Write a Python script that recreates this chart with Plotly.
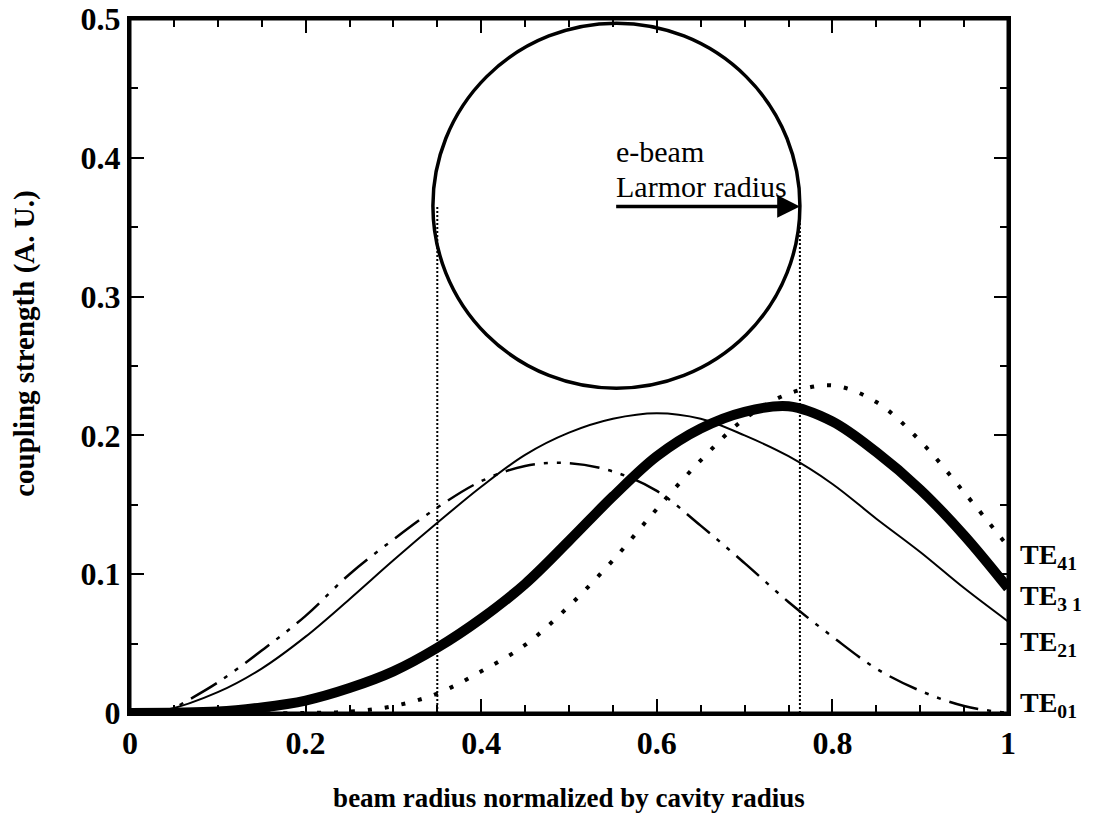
import plotly.graph_objects as go

# ---- data ----
x_te01 = [0, 0.04, 0.06, 0.1, 0.15, 0.2, 0.25, 0.3, 0.35, 0.4, 0.45, 0.5, 0.55, 0.6, 0.65, 0.7, 0.75, 0.8, 0.85, 0.9, 0.95, 1.0]
y_te01 = [0, 0, 0.007, 0.022, 0.045, 0.07, 0.1, 0.125, 0.148, 0.167, 0.178, 0.18, 0.174, 0.16, 0.135, 0.108, 0.08, 0.055, 0.032, 0.016, 0.005, 0.0]

x_te21 = [0, 0.04, 0.1, 0.15, 0.2, 0.25, 0.3, 0.35, 0.4, 0.45, 0.5, 0.55, 0.6, 0.65, 0.7, 0.75, 0.8, 0.85, 0.9, 0.95, 1.0]
y_te21 = [0, 0.002, 0.015, 0.032, 0.055, 0.082, 0.11, 0.137, 0.163, 0.186, 0.202, 0.212, 0.216, 0.212, 0.2, 0.185, 0.165, 0.14, 0.116, 0.09, 0.066]

x_te31 = [0, 0.1, 0.15, 0.2, 0.25, 0.3, 0.35, 0.4, 0.45, 0.5, 0.55, 0.6, 0.65, 0.7, 0.75, 0.8, 0.85, 0.9, 0.95, 1.0]
y_te31 = [0, 0.001, 0.004, 0.009, 0.018, 0.03, 0.047, 0.068, 0.093, 0.124, 0.156, 0.185, 0.205, 0.217, 0.221, 0.21, 0.188, 0.161, 0.128, 0.09]

x_te41 = [0, 0.2, 0.25, 0.3, 0.35, 0.4, 0.45, 0.5, 0.55, 0.6, 0.65, 0.7, 0.75, 0.8, 0.85, 0.9, 0.95, 1.0]
y_te41 = [0, 0, 0.001, 0.005, 0.014, 0.03, 0.049, 0.077, 0.11, 0.147, 0.182, 0.212, 0.230, 0.236, 0.224, 0.196, 0.159, 0.12]

mode_labels = ["TE<sub>41</sub>", "TE<sub>3 1</sub>", "TE<sub>21</sub>", "TE<sub>01</sub>"]
mode_label_y = [0.113, 0.083, 0.050, 0.006]

beam_edges = [0.35, 0.763]        # beam radius limits (dotted verticals)
beam_center_y = 0.365
circle_box = [0.345, 0.234, 0.763, 0.497]  # x0, y0, x1, y1
arrow_start = 0.552

x_ticks = [0, 0.2, 0.4, 0.6, 0.8, 1]
x_ticktext = ["0", "0.2", "0.4", "0.6", "0.8", "1"]
y_ticks = [0, 0.1, 0.2, 0.3, 0.4, 0.5]
y_ticktext = ["0", "0.1", "0.2", "0.3", "0.4", "0.5"]

SERIF = "Liberation Serif, Times New Roman, serif"

fig = go.Figure()

# vertical dotted guides
for xv in beam_edges:
    fig.add_trace(go.Scatter(x=[xv, xv], y=[0, beam_center_y], mode="lines",
                             line=dict(color="black", width=2, dash="2px,2px"),
                             showlegend=False, hoverinfo="skip"))

fig.add_trace(go.Scatter(x=x_te01, y=y_te01, mode="lines", line_shape="spline",
                         line=dict(color="black", width=2.5, dash="30px,9px,4px,9px,4px,9px"),
                         name="TE01", showlegend=False))
fig.add_trace(go.Scatter(x=x_te21, y=y_te21, mode="lines", line_shape="spline",
                         line=dict(color="black", width=2),
                         name="TE21", showlegend=False))
fig.add_trace(go.Scatter(x=x_te41, y=y_te41, mode="lines", line_shape="spline",
                         line=dict(color="black", width=4, dash="4px,13px"),
                         name="TE41", showlegend=False))
fig.add_trace(go.Scatter(x=x_te31, y=y_te31, mode="lines", line_shape="spline",
                         line=dict(color="black", width=10),
                         name="TE31", showlegend=False))

# Larmor circle
fig.add_shape(type="circle", xref="x", yref="y",
              x0=circle_box[0], y0=circle_box[1], x1=circle_box[2], y1=circle_box[3],
              line=dict(color="black", width=3.5))
# plot frame
fig.add_shape(type="rect", xref="paper", yref="paper", x0=0, y0=0, x1=1, y1=1,
              line=dict(color="black", width=3), layer="above")

# arrow
fig.add_annotation(x=beam_edges[1], y=beam_center_y, ax=arrow_start, ay=beam_center_y,
                   xref="x", yref="y", axref="x", ayref="y", text="",
                   showarrow=True, arrowhead=2, arrowsize=1.3, arrowwidth=3.5, arrowcolor="black")
fig.add_annotation(x=arrow_start, y=0.392, xref="x", yref="y",
                   text="e-beam", showarrow=False,
                   xanchor="left", yanchor="bottom", align="left", borderpad=0,
                   font=dict(family=SERIF, size=30, color="black"))
fig.add_annotation(x=arrow_start, y=0.392, xref="x", yref="y",
                   text="Larmor radius", showarrow=False,
                   xanchor="left", yanchor="top", align="left", borderpad=0,
                   font=dict(family=SERIF, size=30, color="black"))

# mode labels
for lab, yv in zip(mode_labels, mode_label_y):
    fig.add_annotation(x=1.0, y=yv, xref="paper", yref="y", text=f"<b>{lab}</b>", showarrow=False,
                       xanchor="left", yanchor="middle", xshift=10,
                       font=dict(family=SERIF, size=28, color="black"))

# y axis title (placed as annotation to match reference position)
fig.add_annotation(x=0, y=0.266, xref="paper", yref="y", xshift=-105,
                   text="<b>coupling strength (A. U.)</b>", showarrow=False, textangle=-90,
                   xanchor="center", yanchor="middle",
                   font=dict(family=SERIF, size=29, color="black"))

axis_common = dict(showline=True, linecolor="black", linewidth=3, mirror="ticks",
                   ticks="inside", ticklen=14, tickwidth=2, tickcolor="black",
                   showgrid=False, zeroline=False, ticklabeloverflow="allow",
                   automargin=False,
                   tickfont=dict(family=SERIF, size=32, color="black"))

fig.update_xaxes(range=[0, 1], tickvals=x_ticks, ticktext=[f"<b>{t}</b>" for t in x_ticktext],
                 minor=dict(ticks="inside", ticklen=8, tickwidth=2, dtick=0.05, tickcolor="black"),
                 title=dict(text="<b>beam radius normalized by cavity radius</b>",
                            font=dict(family=SERIF, size=27, color="black"), standoff=28),
                 **axis_common)
fig.update_yaxes(range=[0, 0.5], tickvals=y_ticks, ticktext=[f"<b>{t}</b>" for t in y_ticktext],
                 minor=dict(ticks="inside", ticklen=8, tickwidth=2, dtick=0.05, tickcolor="black"),
                 **axis_common)

fig.update_layout(width=1092, height=818, plot_bgcolor="white", paper_bgcolor="white",
                  margin=dict(l=122, r=92, t=11, b=113), showlegend=False)

fig.write_html("out.html")
